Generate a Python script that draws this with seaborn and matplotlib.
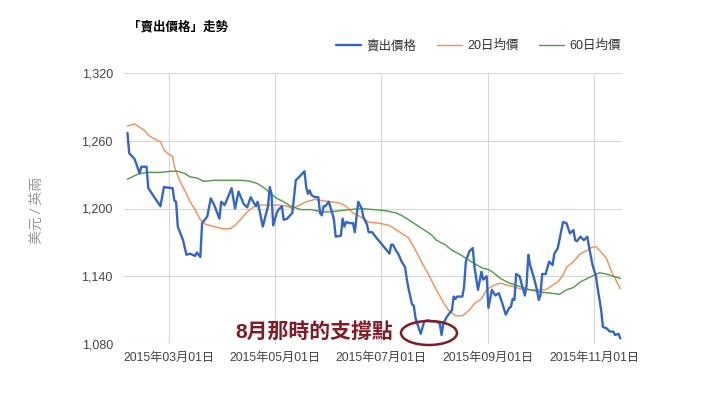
import matplotlib
matplotlib.use("Agg")
import matplotlib.pyplot as plt
from matplotlib.patches import Ellipse
import seaborn as sns
import pandas as pd

# ---------------- data ----------------
price_dates = [
    "2015-02-05", "2015-02-06", "2015-02-09", "2015-02-10", "2015-02-12", "2015-02-13",
    "2015-02-16", "2015-02-17", "2015-02-24", "2015-02-26", "2015-03-03", "2015-03-04",
    "2015-03-05", "2015-03-06", "2015-03-09", "2015-03-11", "2015-03-13", "2015-03-16",
    "2015-03-17", "2015-03-19", "2015-03-20", "2015-03-23", "2015-03-25", "2015-03-27",
    "2015-03-30", "2015-03-31", "2015-04-02", "2015-04-06", "2015-04-08", "2015-04-10",
    "2015-04-13", "2015-04-15", "2015-04-17", "2015-04-20", "2015-04-21", "2015-04-22",
    "2015-04-24", "2015-04-27", "2015-04-28", "2015-04-29", "2015-04-30", "2015-05-02",
    "2015-05-03", "2015-05-05", "2015-05-06", "2015-05-08", "2015-05-11", "2015-05-13",
    "2015-05-15", "2015-05-18", "2015-05-19", "2015-05-20", "2015-05-21", "2015-05-22",
    "2015-05-24", "2015-05-26", "2015-05-27", "2015-05-28", "2015-05-29", "2015-05-30",
    "2015-06-01", "2015-06-03", "2015-06-04", "2015-06-05", "2015-06-08", "2015-06-09",
    "2015-06-10", "2015-06-11", "2015-06-13", "2015-06-15", "2015-06-16", "2015-06-18",
    "2015-06-20", "2015-06-21", "2015-06-23", "2015-06-24", "2015-06-26", "2015-06-28",
    "2015-07-06", "2015-07-07", "2015-07-08", "2015-07-10", "2015-07-11", "2015-07-13",
    "2015-07-15", "2015-07-16", "2015-07-17", "2015-07-19", "2015-07-20", "2015-07-21",
    "2015-07-22", "2015-07-24", "2015-07-26", "2015-07-28", "2015-07-30", "2015-08-02",
    "2015-08-04", "2015-08-05", "2015-08-06", "2015-08-08", "2015-08-11", "2015-08-12",
    "2015-08-13", "2015-08-14", "2015-08-17", "2015-08-18", "2015-08-19", "2015-08-21",
    "2015-08-23", "2015-08-24", "2015-08-26", "2015-08-28", "2015-08-29", "2015-08-31",
    "2015-09-01", "2015-09-03", "2015-09-05", "2015-09-07", "2015-09-09", "2015-09-11",
    "2015-09-13", "2015-09-14", "2015-09-15", "2015-09-16", "2015-09-17", "2015-09-19",
    "2015-09-20", "2015-09-22", "2015-09-23", "2015-09-24", "2015-09-25", "2015-09-27",
    "2015-09-29", "2015-09-30", "2015-10-01", "2015-10-02", "2015-10-04", "2015-10-06",
    "2015-10-08", "2015-10-09", "2015-10-11", "2015-10-14", "2015-10-16", "2015-10-18",
    "2015-10-20", "2015-10-21", "2015-10-22", "2015-10-24", "2015-10-26", "2015-10-28",
    "2015-10-29", "2015-10-31", "2015-11-02", "2015-11-03", "2015-11-05", "2015-11-06",
    "2015-11-08", "2015-11-10", "2015-11-12", "2015-11-13", "2015-11-15", "2015-11-16",
]
price_values = [
    1267, 1249, 1244, 1240, 1231, 1237,
    1237, 1218, 1202, 1219, 1218, 1207,
    1206, 1184, 1172, 1159, 1160, 1158,
    1161, 1157, 1187, 1193, 1209, 1203,
    1191, 1206, 1203, 1218, 1200, 1215,
    1204, 1201, 1210, 1202, 1206, 1199,
    1184, 1202, 1219, 1213, 1185, 1196,
    1199, 1202, 1190, 1191, 1196, 1225,
    1228, 1233, 1219, 1213, 1216, 1212,
    1210, 1210, 1196, 1194, 1202, 1202,
    1206, 1196, 1190, 1175, 1176, 1191,
    1184, 1188, 1187, 1187, 1179, 1206,
    1200, 1192, 1186, 1179, 1179, 1175,
    1160, 1168, 1168, 1162, 1160, 1153,
    1148, 1137, 1129, 1115, 1114, 1103,
    1098, 1089, 1100, 1101, 1100, 1100,
    1098, 1088, 1098, 1104, 1110, 1122,
    1120, 1122, 1122, 1131, 1153, 1162,
    1165, 1148, 1128, 1144, 1137, 1140,
    1112, 1128, 1123, 1125, 1116, 1106,
    1112, 1113, 1120, 1119, 1142, 1140,
    1134, 1123, 1132, 1159, 1150, 1140,
    1128, 1119, 1123, 1142, 1142, 1153,
    1150, 1160, 1165, 1188, 1187, 1178,
    1181, 1172, 1171, 1175, 1172, 1175,
    1166, 1150, 1140, 1129, 1110, 1095,
    1094, 1091, 1091, 1088, 1089, 1085,
]

ma20_dates = [
    "2015-02-05", "2015-02-09", "2015-02-12", "2015-02-15", "2015-02-17", "2015-02-20",
    "2015-02-24", "2015-02-26", "2015-02-28", "2015-03-03", "2015-03-04", "2015-03-07",
    "2015-03-11", "2015-03-13", "2015-03-16", "2015-03-19", "2015-03-22", "2015-03-27",
    "2015-04-01", "2015-04-05", "2015-04-08", "2015-04-11", "2015-04-15", "2015-04-19",
    "2015-04-22", "2015-04-28", "2015-05-04", "2015-05-08", "2015-05-11", "2015-05-15",
    "2015-05-19", "2015-05-24", "2015-05-28", "2015-06-02", "2015-06-07", "2015-06-11",
    "2015-06-15", "2015-06-19", "2015-06-24", "2015-06-30", "2015-07-06", "2015-07-12",
    "2015-07-17", "2015-07-21", "2015-07-25", "2015-07-29", "2015-08-02", "2015-08-06",
    "2015-08-09", "2015-08-13", "2015-08-17", "2015-08-21", "2015-08-24", "2015-08-28",
    "2015-08-31", "2015-09-04", "2015-09-08", "2015-09-12", "2015-09-15", "2015-09-19",
    "2015-09-24", "2015-09-30", "2015-10-04", "2015-10-08", "2015-10-11", "2015-10-14",
    "2015-10-16", "2015-10-20", "2015-10-24", "2015-10-28", "2015-10-31", "2015-11-02",
    "2015-11-04", "2015-11-08", "2015-11-11", "2015-11-14", "2015-11-16",
]
ma20_values = [
    1273, 1275, 1272, 1269, 1265, 1262,
    1259, 1252, 1249, 1246, 1237, 1225,
    1213, 1206, 1199, 1190, 1186, 1184,
    1182, 1182, 1185, 1190, 1197, 1202,
    1203, 1203, 1203, 1202, 1200, 1203,
    1206, 1208, 1207, 1206, 1205, 1202,
    1196, 1193, 1188, 1187, 1185, 1179,
    1174, 1163, 1151, 1140, 1128, 1117,
    1110, 1105, 1105, 1110, 1116, 1120,
    1128, 1132, 1134, 1132, 1131, 1129,
    1128, 1128, 1128, 1132, 1135, 1141,
    1148, 1153, 1160, 1163, 1166, 1166,
    1163, 1156, 1144, 1135, 1129,
]

ma60_dates = [
    "2015-02-05", "2015-02-09", "2015-02-12", "2015-02-17", "2015-02-24", "2015-03-02",
    "2015-03-06", "2015-03-10", "2015-03-13", "2015-03-17", "2015-03-21", "2015-03-27",
    "2015-04-01", "2015-04-07", "2015-04-12", "2015-04-17", "2015-04-21", "2015-04-25",
    "2015-04-28", "2015-05-02", "2015-05-06", "2015-05-10", "2015-05-16", "2015-05-22",
    "2015-05-28", "2015-06-02", "2015-06-07", "2015-06-13", "2015-06-19", "2015-06-27",
    "2015-07-04", "2015-07-10", "2015-07-14", "2015-07-20", "2015-07-25", "2015-07-30",
    "2015-08-02", "2015-08-07", "2015-08-11", "2015-08-16", "2015-08-21", "2015-08-24",
    "2015-08-29", "2015-09-01", "2015-09-04", "2015-09-08", "2015-09-13", "2015-09-19",
    "2015-09-25", "2015-10-01", "2015-10-07", "2015-10-12", "2015-10-16", "2015-10-20",
    "2015-10-24", "2015-10-28", "2015-11-01", "2015-11-04", "2015-11-08", "2015-11-12",
    "2015-11-16",
]
ma60_values = [
    1226, 1229, 1231, 1232, 1232, 1233,
    1233, 1231, 1228, 1227, 1224, 1225,
    1225, 1225, 1225, 1224, 1222, 1218,
    1214, 1209, 1206, 1202, 1199, 1199,
    1197, 1197, 1198, 1199, 1200, 1199,
    1198, 1196, 1193, 1187, 1182, 1177,
    1172, 1168, 1163, 1159, 1154, 1151,
    1147, 1146, 1143, 1138, 1134, 1131,
    1128, 1126, 1125, 1124, 1128, 1130,
    1135, 1138, 1141, 1143, 1142, 1140,
    1138,
]

series_names = ["賣出價格", "20日均價", "60日均價"]
y_ticks = [1080, 1140, 1200, 1260, 1320]
x_tick_dates = ["2015-03-01", "2015-05-01", "2015-07-01", "2015-09-01", "2015-11-01"]
x_tick_labels = ["2015年03月01日", "2015年05月01日", "2015年07月01日",
                 "2015年09月01日", "2015年11月01日"]
title_text = "「賣出價格」走勢"
y_label = "美元 / 英兩"
note_text = "8月那時的支撐點"

# ---------------- style ----------------
sns.set_style("white")
plt.rcParams["font.family"] = ["Liberation Sans", "Noto Sans CJK TC", "DejaVu Sans"]

colors = ["#3366cc", "#ff8a4c", "#45a040"]
widths = [1.7, 1.0, 1.0]

frames = [
    pd.DataFrame({"date": pd.to_datetime(price_dates), "value": price_values, "series": series_names[0]}),
    pd.DataFrame({"date": pd.to_datetime(ma20_dates), "value": ma20_values, "series": series_names[1]}),
    pd.DataFrame({"date": pd.to_datetime(ma60_dates), "value": ma60_values, "series": series_names[2]}),
]

fig = plt.figure(figsize=(7.2, 3.96), dpi=100)
ax = fig.add_axes([124 / 720, 1 - 344 / 396, (622 - 124) / 720, (344 - 73) / 396])

# draw MAs first, price on top
for i in [1, 2, 0]:
    sns.lineplot(data=frames[i], x="date", y="value", ax=ax, color=colors[i],
                 linewidth=widths[i], label=series_names[i], zorder=3 + (i == 0))

ax.set_xlim(pd.Timestamp("2015-02-03"), pd.Timestamp("2015-11-17"))
ax.set_ylim(y_ticks[0], y_ticks[-1])
ax.set_yticks(y_ticks)
ax.set_yticklabels([f"{v:,}" for v in y_ticks])
ax.set_xticks(pd.to_datetime(x_tick_dates))
ax.set_xticklabels(x_tick_labels)
ax.tick_params(axis="y", length=0, labelsize=9, labelcolor="#444444", pad=8)
ax.tick_params(axis="x", length=0, labelsize=8.8, labelcolor="#444444", pad=6)
ax.set_xlabel("")
ax.set_ylabel("")
ax.grid(True, color="#d6d6d6", linewidth=0.8)
ax.set_axisbelow(True)
for s in ax.spines.values():
    s.set_visible(False)

# legend (reordered to match reference)
handles, labels = ax.get_legend_handles_labels()
order = [labels.index(n) for n in series_names]
ax.legend([handles[k] for k in order], [labels[k] for k in order],
          loc="center right", bbox_to_anchor=(621 / 720, 1 - 46 / 396),
          bbox_transform=fig.transFigure, ncol=3, frameon=False,
          fontsize=9, handlelength=2.0, handletextpad=0.45, columnspacing=1.6,
          labelcolor="#333333", borderaxespad=0, borderpad=0)

fig.text(128 / 720, 1 - 27 / 396, title_text, fontsize=9, fontweight="bold",
         color="#000000", ha="left", va="center")
fig.text(37 / 720, 1 - 210 / 396, y_label, rotation=90, fontsize=10, color="#999999",
         ha="center", va="center", style="italic")

note_color = "#861a24"
fig.text(314 / 720, 1 - 332 / 396, note_text, fontsize=15, fontweight="bold",
         color=note_color, ha="center", va="center")
ax.add_patch(Ellipse((429 / 720, 1 - 333 / 396), 56 / 720, 24 / 396,
                     transform=fig.transFigure, fill=False, edgecolor=note_color,
                     linewidth=1.8, clip_on=False, zorder=10))

fig.savefig("out.png", dpi=100)
